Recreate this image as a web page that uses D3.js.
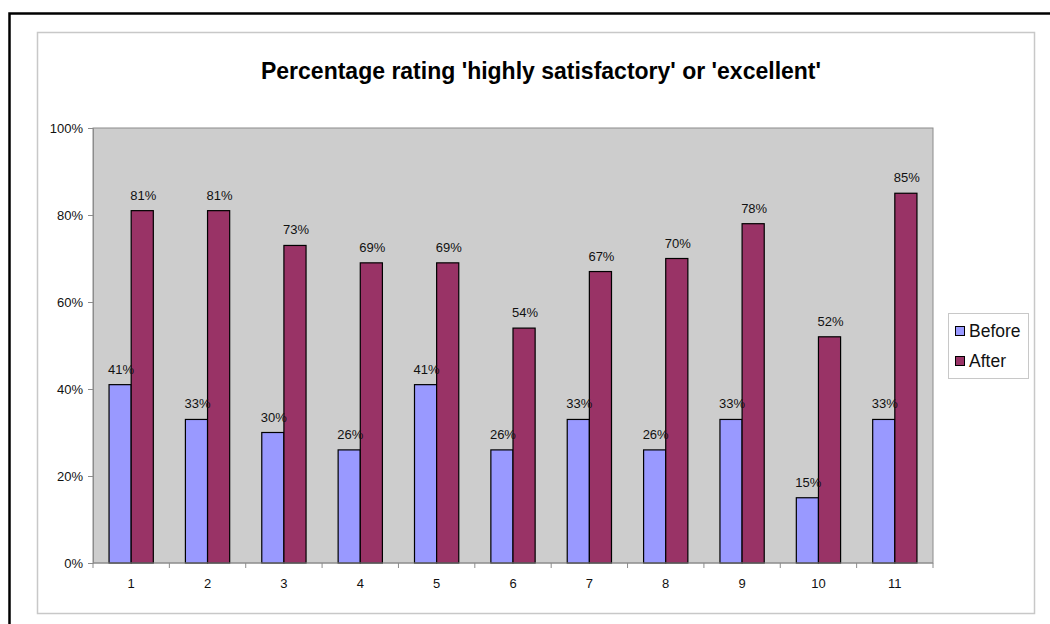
<!DOCTYPE html>
<html>
<head>
<meta charset="utf-8">
<script src="https://cdn.jsdelivr.net/npm/d3@7"></script>
<style>
  body { margin: 0; background: #fff; }
  svg { display: block; font-family: "Liberation Sans", Arial, sans-serif; }
</style>
</head>
<body>
<div id="container"></div>
<script>
const categories = ["1", "2", "3", "4", "5", "6", "7", "8", "9", "10", "11"];
const before = [41, 33, 30, 26, 41, 26, 33, 26, 33, 15, 33];
const after = [81, 81, 73, 69, 69, 54, 67, 70, 78, 52, 85];
const yTicks = [0, 20, 40, 60, 80, 100];
const seriesNames = ["Before", "After"];
const colors = ["#9999ff", "#993366"];

const W = 1050, H = 624;
const plot = { left: 93, top: 128, right: 933, bottom: 563 };

const svg = d3.select('#container')
    .append('svg')
    .attr('width', W)
    .attr('height', H);

// outer frame (only left/top visible in the picture)
svg.append('path')
    .attr('d', `M9.5,${H} V13.5 H${W}`)
    .attr('fill', 'none')
    .attr('stroke', '#000')
    .attr('stroke-width', 2.5);

// chart area border
svg.append('rect')
    .attr('x', 37.5).attr('y', 32.5)
    .attr('width', 1034 - 37).attr('height', 613 - 32)
    .attr('fill', '#fff')
    .attr('stroke', '#c8c8c8')
    .attr('stroke-width', 1.5);

svg.append('text')
    .attr('x', 541)
    .attr('y', 79)
    .attr('text-anchor', 'middle')
    .attr('font-weight', 'bold')
    .attr('font-size', 23)
    .text("Percentage rating 'highly satisfactory' or 'excellent'");

const x = d3.scaleBand()
    .domain(categories)
    .range([plot.left, plot.right]);

const y = d3.scaleLinear()
    .domain([0, 100])
    .range([plot.bottom, plot.top]);

// plot background
svg.append('rect')
    .attr('x', plot.left).attr('y', plot.top)
    .attr('width', plot.right - plot.left)
    .attr('height', plot.bottom - plot.top)
    .attr('fill', '#cdcdcd')
    .attr('stroke', '#8c8c8c')
    .attr('stroke-width', 1);

const barW = x.bandwidth() / 3.45;

const data = [];
categories.forEach((c, i) => {
    data.push({ cat: c, s: 0, v: before[i] });
    data.push({ cat: c, s: 1, v: after[i] });
});

const bx = d => x(d.cat) + x.bandwidth() / 2 + (d.s - 1) * barW;

svg.append('g')
    .selectAll('rect')
    .data(data)
    .enter()
    .append('rect')
    .attr('x', bx)
    .attr('y', d => y(d.v))
    .attr('width', barW)
    .attr('height', d => y(0) - y(d.v))
    .attr('fill', d => colors[d.s])
    .attr('stroke', '#000')
    .attr('stroke-width', 1.2);

svg.append('g')
    .selectAll('text')
    .data(data)
    .enter()
    .append('text')
    .attr('x', d => bx(d) + barW / 2 + 1)
    .attr('y', d => y(d.v) - 11)
    .attr('text-anchor', 'middle')
    .attr('font-size', 13)
    .attr('fill', '#111')
    .text(d => d.v + '%');

// y axis
const yAxis = svg.append('g')
    .attr('transform', `translate(${plot.left},0)`)
    .call(d3.axisLeft(y).tickValues(yTicks).tickSize(5).tickPadding(5).tickFormat(d => d + '%'));
yAxis.select('.domain').attr('stroke', '#8c8c8c');
yAxis.selectAll('.tick line').attr('stroke', '#8c8c8c');
yAxis.selectAll('.tick text').attr('font-size', 13).attr('fill', '#111')
    .attr('font-family', '"Liberation Sans", Arial, sans-serif');

// x axis: ticks between categories
const xAxis = svg.append('g')
    .attr('transform', `translate(0,${plot.bottom})`);
xAxis.append('line')
    .attr('x1', plot.left).attr('x2', plot.right)
    .attr('stroke', '#8c8c8c');
xAxis.selectAll('line.tk')
    .data(categories.concat(['end']))
    .enter()
    .append('line')
    .attr('class', 'tk')
    .attr('x1', (d, i) => i < categories.length ? x(d) : plot.right)
    .attr('x2', (d, i) => i < categories.length ? x(d) : plot.right)
    .attr('y1', 0).attr('y2', 5)
    .attr('stroke', '#8c8c8c');
xAxis.selectAll('text')
    .data(categories)
    .enter()
    .append('text')
    .attr('x', d => x(d) + x.bandwidth() / 2)
    .attr('y', 25)
    .attr('text-anchor', 'middle')
    .attr('font-size', 13)
    .attr('fill', '#111')
    .text(d => d);

// legend
const legend = svg.append('g');
legend.append('rect')
    .attr('x', 948.5).attr('y', 313.5)
    .attr('width', 80).attr('height', 65)
    .attr('fill', '#fff')
    .attr('stroke', '#c8c8c8');
seriesNames.forEach((n, i) => {
    legend.append('rect')
        .attr('x', 955.5).attr('y', 326.5 + i * 30)
        .attr('width', 9).attr('height', 9)
        .attr('fill', colors[i])
        .attr('stroke', '#000');
    legend.append('text')
        .attr('x', 969)
        .attr('y', 337 + i * 30)
        .attr('font-size', 17.5)
        .attr('fill', '#111')
        .text(n);
});
</script>
</body>
</html>
